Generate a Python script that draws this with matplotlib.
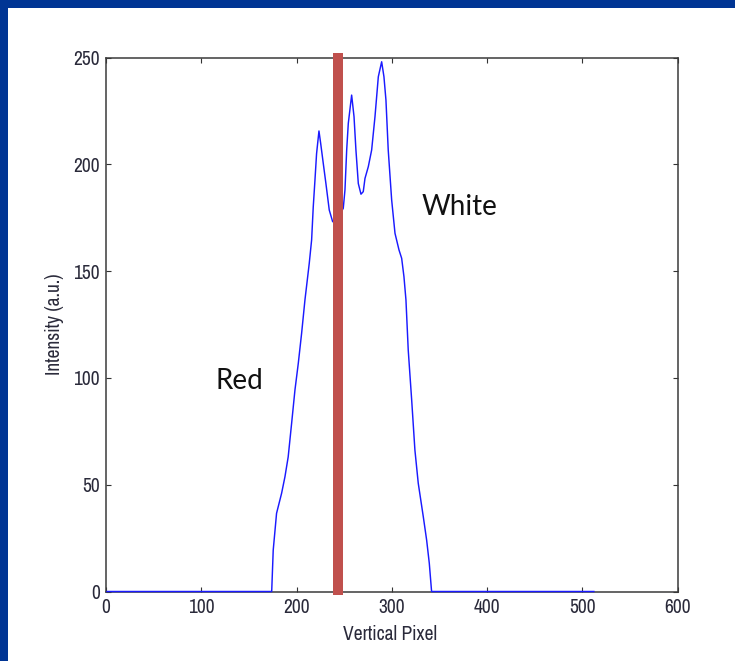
import matplotlib
matplotlib.use("Agg")
import matplotlib.pyplot as plt
from matplotlib.patches import Rectangle
from matplotlib import font_manager

# ---- data ----
pixel = [1, 173.9, 175.5, 179, 184.3, 187.8, 191.2, 194.8, 198.3, 201.8, 205.3,
         208.8, 213.3, 215.8, 217.5, 219.3, 221, 223.5, 225.3, 228, 230.8, 234.3,
         237.9, 243.5, 249, 250.8, 252.6, 254.3, 257.8, 260.3, 262.3, 264.8, 267.6,
         270, 271.8, 275.3, 278.8, 282.3, 285.8, 289.3, 291.7, 293.8, 296.2, 299.8,
         303.3, 307.5, 310.3, 312.7, 314.8, 317.2, 320.8, 324.2, 327.7, 333, 336.5,
         339.3, 341.7, 512]
intensity = [0, 0, 19.4, 36.6, 46, 53.7, 63, 78.7, 94.3, 106.8, 120.9,
             136.5, 153.6, 164.6, 180, 192.6, 205, 215.6, 209.8, 200.5, 191, 178.6,
             173.1, 175, 179.4, 188, 206.7, 219.2, 232.4, 222.3, 206.7, 191, 186,
             187.2, 193.4, 198.9, 206.7, 222.3, 241, 248, 241, 230.1, 206.7, 183.3,
             167.7, 159.9, 156, 147.4, 136.5, 113, 89.7, 66.2, 50.7, 35, 24.1,
             13.2, 0, 0]
boundary_x = 243.5
labels = ["Red", "White"]
label_x = [115.4, 331.6]
label_y = [94.9, 176.3]
xticks = [0, 100, 200, 300, 400, 500, 600]
yticks = [0, 50, 100, 150, 200, 250]

# pick a narrow sans if one is installed, otherwise Liberation Sans
names = sorted({f.name for f in font_manager.fontManager.ttflist})
if "Liberation Sans Narrow" in names:
    narrow = ["Liberation Sans Narrow"]
else:
    narrow = [n for n in names if "Narrow" in n or "Condensed" in n]
if narrow:
    tick_font = [narrow[0], "DejaVu Sans"]
    tick_size = 14
else:
    tick_font = ["Liberation Sans", "DejaVu Sans"]
    tick_size = 12.5

W, H = 735, 661
fig = plt.figure(figsize=(W / 100, H / 100), dpi=100)
fig.patch.set_facecolor("white")

# blue slide frame (top and left)
fig.patches.append(Rectangle((0, 1 - 7.5 / H), 1, 7.5 / H, transform=fig.transFigure,
                             facecolor="#003594", edgecolor="none", zorder=0))
fig.patches.append(Rectangle((0, 0), 8 / W, 1, transform=fig.transFigure,
                             facecolor="#003594", edgecolor="none", zorder=0))

left, right, top, bottom = 106, 677.7, 57.5, 591.5
ax = fig.add_axes([left / W, 1 - bottom / H, (right - left) / W, (bottom - top) / H])

ax.plot(pixel, intensity, color="#1a1aff", lw=1.05, zorder=3, clip_on=False)
ax.set_xlim(0, 600)
ax.set_ylim(0, 250)
ax.set_xticks(xticks)
ax.set_yticks(yticks)

for lab in ax.get_xticklabels() + ax.get_yticklabels():
    lab.set_fontfamily(tick_font)
    lab.set_fontsize(tick_size)
    lab.set_color("#2a2a3a")
ax.tick_params(direction="in", length=3.6, width=0.8, color="#333333",
               top=True, right=True, pad=5)
ax.tick_params(axis="y", pad=4.5)
for s in ax.spines.values():
    s.set_color("#3a3a3a")
    s.set_linewidth(1.1)

ax.set_xlabel("Vertical Pixel", fontfamily=tick_font, fontsize=tick_size, color="#2a2a3a")
ax.set_ylabel("Intensity (a.u.)", fontfamily=tick_font, fontsize=tick_size, color="#2a2a3a")
ax.xaxis.set_label_coords(0.497, -0.062)
ax.yaxis.set_label_coords(-0.074, 0.5)

# red boundary bar (slide shape, extends a bit beyond the axes)
bar_w = 10.5
ax.add_patch(Rectangle((boundary_x - bar_w / 2, -1.5), bar_w, 253.5,
                       facecolor="#c0504d", edgecolor="none", clip_on=False, zorder=4))

for t, x, y in zip(labels, label_x, label_y):
    ax.text(x, y, t, fontfamily=["Lato", "DejaVu Sans"], fontsize=20, color="#111111",
            ha="left", va="baseline", zorder=5)

fig.savefig("out.png", dpi=100)
